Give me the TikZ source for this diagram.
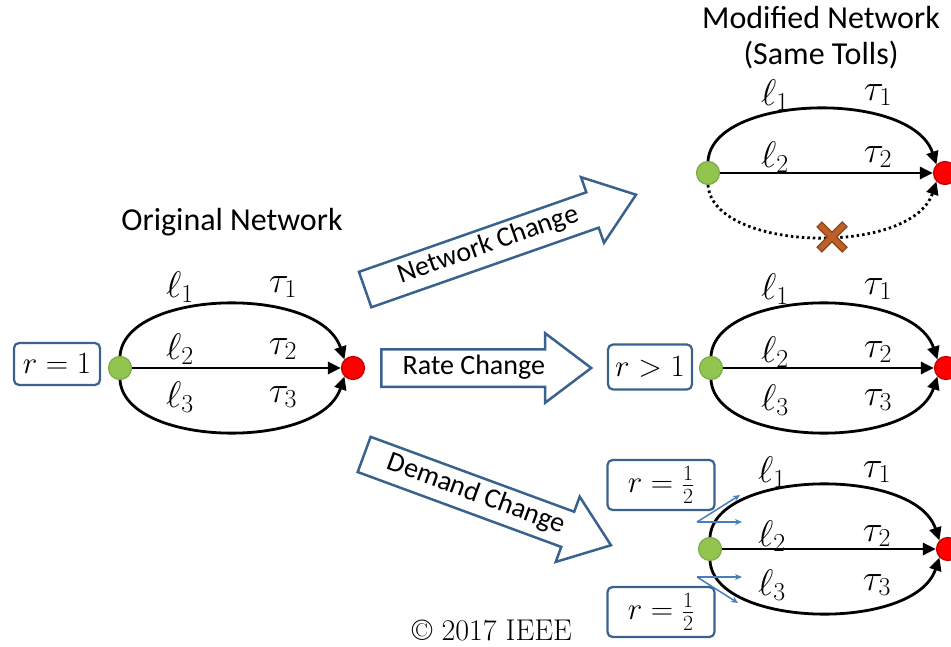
\documentclass[tikz,border=0pt]{standalone}
\usepackage{fix-cm}
\usepackage{fontspec}
\newfontfamily\carl{Carlito}
\usetikzlibrary{shapes.arrows,arrows.meta}
\definecolor{boxblue}{RGB}{58,98,142}
\definecolor{lblue}{RGB}{74,126,187}
\definecolor{gfill}{RGB}{146,196,80}
\definecolor{gdraw}{RGB}{125,170,70}
\definecolor{rfill}{RGB}{255,0,0}
\definecolor{rdraw}{RGB}{192,0,0}
\definecolor{xfill}{RGB}{190,95,40}
\definecolor{xdraw}{RGB}{140,70,30}
\begin{document}
\begin{tikzpicture}[x=1pt,y=-1pt,
  src/.style={circle,fill=gfill,draw=gdraw,line width=1.2pt,minimum size=23pt,inner sep=0pt},
  snk/.style={circle,fill=rfill,draw=rdraw,line width=1.2pt,minimum size=23pt,inner sep=0pt},
  edge/.style={line width=2.8pt,-{Triangle[length=13pt,width=12pt]}},
  dotedge/.style={line width=2.8pt,dash pattern=on 2.5pt off 3pt,-{Triangle[length=13pt,width=12pt]}},
  lab/.style={font=\fontsize{37}{40}\selectfont,inner sep=0pt},
  ratebox/.style={draw=boxblue,line width=2.2pt,rounded corners=5pt,fill=white,font=\fontsize{31}{34}\selectfont,inner sep=0pt},
  title/.style={font=\carl\fontsize{32}{36}\selectfont,align=center,inner sep=0pt},
  barrow/.style={single arrow,draw=boxblue,line width=2.5pt,fill=white,single arrow head extend=16pt,single arrow tip angle=74,font=\carl\fontsize{28}{30}\selectfont,text height=18pt,text depth=6pt,inner ysep=5.5pt,inner xsep=4pt,anchor=tail},
  smallarr/.style={draw=lblue,line width=1.5pt,-{Stealth[length=7pt,width=6pt]}}
]
\useasboundingbox (0,0) rectangle (951,647);

% ---------- original network ----------
\node[title] (t0) at (232,222) {Original Network};
\node[src] (g0) at (120,368) {};
\node[snk] (r0) at (353,368) {};
\draw[edge] (g0.north) .. controls +(5,-67) and +(-25,-75) .. (r0.north west);
\draw[edge] (g0.east) -- (r0.west);
\draw[edge] (g0.south) .. controls +(5,67) and +(-25,75) .. (r0.south west);
\node[lab] (l01) at (180,287) {$\ell_1$};
\node[lab] (u01) at (283,287) {$\tau_1$};
\node[lab] (l02) at (180,349) {$\ell_2$};
\node[lab] (u02) at (283,349) {$\tau_2$};
\node[lab] (l03) at (180,397) {$\ell_3$};
\node[lab] (u03) at (283,397) {$\tau_3$};
\node[ratebox,minimum width=86pt,minimum height=42pt] (b0) at (57,364) {$r=1$};

% ---------- block arrows ----------
\node[barrow,minimum height=287pt,rotate=19.3] (aN) at (364,290) {Network Change};
\node[barrow,minimum height=210pt] (aR) at (380,368) {Rate Change};
\node[barrow,minimum height=263pt,rotate=-20.2] (aD) at (363,454) {Demand Change};

% ---------- modified network ----------
\node[title] (t1) at (821,18) {Modified Network};
\node[title] (t2) at (821,55) {(Same Tolls)};
\node[src] (g1) at (708,173) {};
\node[snk] (r1) at (945,173) {};
\draw[edge] (g1.north) .. controls +(5,-67) and +(-25,-75) .. (r1.north west);
\draw[edge] (g1.east) -- (r1.west);
\draw[dotedge] (g1.south) .. controls +(5,67) and +(-25,75) .. (r1.south west);
\node[lab] (l11) at (775,95) {$\ell_1$};
\node[lab] (u11) at (878,95) {$\tau_1$};
\node[lab] (l12) at (775,157) {$\ell_2$};
\node[lab] (u12) at (878,157) {$\tau_2$};
\coordinate (X) at (832,237);
\draw[xdraw,line width=8pt] (X) ++(-13,-13) -- ++(26,26) (X) ++(-13,13) -- ++(26,-26);
\draw[xfill,line width=5pt] (X) ++(-12,-12) -- ++(24,24) (X) ++(-12,12) -- ++(24,-24);

% ---------- rate change network ----------
\node[src] (g2) at (711,368) {};
\node[snk] (r2) at (946,368) {};
\draw[edge] (g2.north) .. controls +(5,-67) and +(-25,-75) .. (r2.north west);
\draw[edge] (g2.east) -- (r2.west);
\draw[edge] (g2.south) .. controls +(5,67) and +(-25,75) .. (r2.south west);
\node[lab] (l21) at (775,289) {$\ell_1$};
\node[lab] (u21) at (878,289) {$\tau_1$};
\node[lab] (l22) at (775,352) {$\ell_2$};
\node[lab] (u22) at (878,352) {$\tau_2$};
\node[lab] (l23) at (775,400) {$\ell_3$};
\node[lab] (u23) at (878,400) {$\tau_3$};
\node[ratebox,minimum width=84pt,minimum height=45pt] (b2) at (650,367) {$r>1$};

% ---------- demand change network ----------
\node[src] (g3) at (710,549) {};
\node[snk] (r3) at (948,549) {};
\draw[edge] (g3.north) .. controls +(5,-67) and +(-25,-75) .. (r3.north west);
\draw[edge] (g3.east) -- (r3.west);
\draw[edge] (g3.south) .. controls +(5,67) and +(-25,75) .. (r3.south west);
\node[lab] (l31) at (772,472) {$\ell_1$};
\node[lab] (u31) at (877,472) {$\tau_1$};
\node[lab] (l32) at (772,536) {$\ell_2$};
\node[lab] (u32) at (877,536) {$\tau_2$};
\node[lab] (l33) at (772,585) {$\ell_3$};
\node[lab] (u33) at (877,585) {$\tau_3$};
\node[ratebox,minimum width=107pt,minimum height=50pt] (b31) at (661,485) {$r=\frac{1}{2}$};
\node[ratebox,minimum width=107pt,minimum height=50pt] (b32) at (661,612) {$r=\frac{1}{2}$};
\coordinate (s1) at (697,522);
\coordinate (s1a) at (740,495);
\coordinate (s1b) at (742,522);
\coordinate (s2) at (697,577);
\coordinate (s2a) at (742,577);
\coordinate (s2b) at (738,603);
\draw[smallarr] (s1) -- (s1a);
\draw[smallarr] (s1) -- (s1b);
\draw[smallarr] (s2) -- (s2a);
\draw[smallarr] (s2) -- (s2b);

\node[font=\fontsize{30}{33}\selectfont,inner sep=0pt] (cp) at (492,630) {\textcopyright{} 2017 IEEE};
\end{tikzpicture}
\end{document}
